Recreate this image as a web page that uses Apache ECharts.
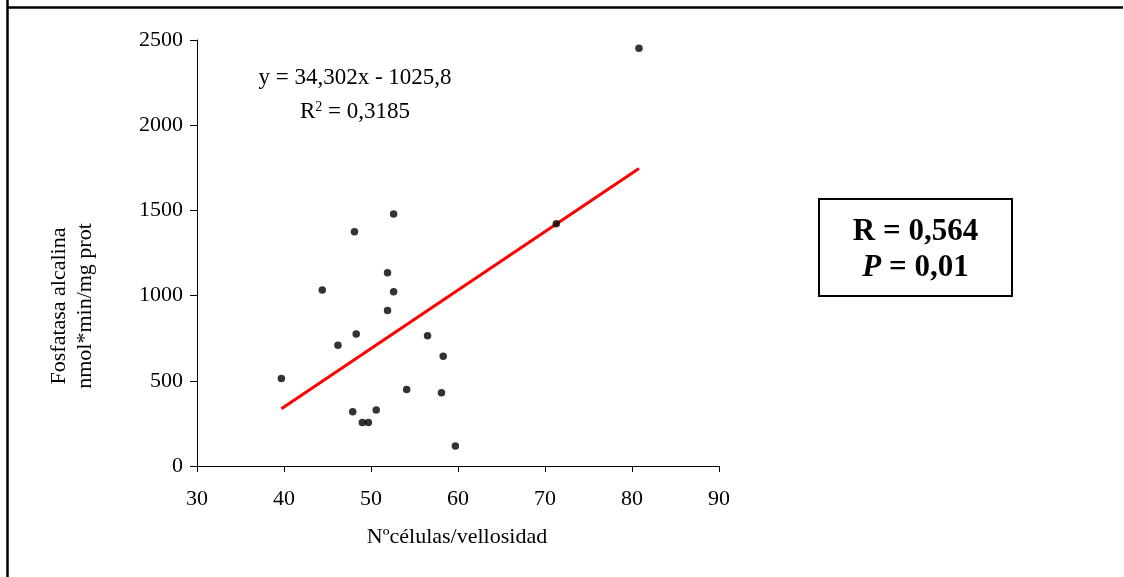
<!DOCTYPE html>
<html>
<head>
<meta charset="utf-8">
<script src="https://cdn.jsdelivr.net/npm/echarts@6/dist/echarts.min.js"></script>
<style>
html,body{margin:0;padding:0;background:#fff;}
#chart{width:1124px;height:577px;}
</style>
</head>
<body>
<div id="chart"></div>
<script>
// Data
var cellsPerVillus = [39.7, 44.4, 46.2, 48.3, 48.1, 47.9, 49.0, 49.7, 50.6, 51.9, 51.9, 52.6, 52.6, 54.1, 56.5, 58.3, 58.1, 59.7, 71.3, 80.8];
var alkalinePhosphatase = [514, 1033, 708, 774, 1375, 319, 255, 255, 329, 1134, 912, 1023, 1479, 449, 765, 644, 430, 117, 1422, 2451];
var trendSlope = 34.302;
var trendIntercept = -1025.8;
var xTicks = [30, 40, 50, 60, 70, 80, 90];
var yTicks = [0, 500, 1000, 1500, 2000, 2500];
var equationText = 'y = 34,302x - 1025,8';
var r2Text = '0,3185';
var rText = 'R = 0,564';
var pText = '0,01';

var points = cellsPerVillus.map(function (x, i) { return [x, alkalinePhosphatase[i]]; });
var xMinData = Math.min.apply(null, cellsPerVillus);
var xMaxData = Math.max.apply(null, cellsPerVillus);
var trend = [
  [xMinData, trendSlope * xMinData + trendIntercept],
  [xMaxData, trendSlope * xMaxData + trendIntercept]
];

var FONT = '"Liberation Serif", "Times New Roman", serif';
var chart = echarts.init(document.getElementById('chart'), null, {renderer: 'canvas'});
chart.setOption({
  backgroundColor: '#ffffff',
  animation: false,
  grid: {left: 197, right: 405, top: 40, bottom: 111, containLabel: false},
  xAxis: {
    type: 'value',
    min: xTicks[0], max: xTicks[xTicks.length - 1], interval: xTicks[1] - xTicks[0],
    splitLine: {show: false},
    axisLine: {onZero: false, lineStyle: {color: '#000', width: 1}},
    axisTick: {show: true, length: 6, lineStyle: {color: '#000'}},
    axisLabel: {color: '#000', fontFamily: FONT, fontSize: 22, margin: 22, formatter: function (v) { return String(v); }}
  },
  yAxis: {
    type: 'value',
    min: yTicks[0], max: yTicks[yTicks.length - 1], interval: yTicks[1] - yTicks[0],
    splitLine: {show: false},
    axisLine: {show: true, lineStyle: {color: '#000', width: 1}},
    axisTick: {show: true, length: 7, lineStyle: {color: '#000'}},
    axisLabel: {color: '#000', fontFamily: FONT, fontSize: 22, margin: 14, formatter: function (v) { return String(v); }}
  },
  series: [
    {
      type: 'line',
      data: trend,
      showSymbol: false,
      symbol: 'none',
      lineStyle: {color: '#ff0000', width: 3},
      z: 2
    },
    {
      type: 'scatter',
      data: points,
      symbol: 'circle',
      symbolSize: 7.5,
      itemStyle: {color: '#000'},
      z: 3
    }
  ],
  graphic: [
    {type: 'line', shape: {x1: 7.5, y1: 0, x2: 7.5, y2: 577}, style: {stroke: '#000', lineWidth: 2.5}},
    {type: 'line', shape: {x1: 7, y1: 7.5, x2: 1123, y2: 7.5}, style: {stroke: '#000', lineWidth: 2.5}},
    {type: 'text', x: 355, y: 78, style: {text: equationText, font: '23px ' + FONT, fill: '#000', textAlign: 'center', textVerticalAlign: 'middle'}},
    {type: 'text', x: 355, y: 112, style: {
      text: '{n|R}{s|2}{n| = ' + r2Text + '}',
      textAlign: 'center', textVerticalAlign: 'middle',
      rich: {
        n: {fontFamily: FONT, fontSize: 23, color: '#000'},
        s: {fontFamily: FONT, fontSize: 14, color: '#000', verticalAlign: 'top', padding: [0, 0, 10, 0]}
      }
    }},
    {type: 'text', x: 457, y: 537, style: {text: 'Nºcélulas/vellosidad', font: '22px ' + FONT, fill: '#000', textAlign: 'center', textVerticalAlign: 'middle'}},
    {type: 'text', x: 72, y: 306, rotation: Math.PI / 2, style: {text: 'Fosfatasa alcalina\nnmol*min/mg prot', font: '22px ' + FONT, fill: '#000', textAlign: 'center', textVerticalAlign: 'middle', lineHeight: 26}},
    {type: 'rect', shape: {x: 819, y: 199, width: 193, height: 97}, style: {fill: '#fff', stroke: '#000', lineWidth: 2}},
    {type: 'text', x: 915.5, y: 232, style: {text: rText, font: 'bold 31px ' + FONT, fill: '#000', textAlign: 'center', textVerticalAlign: 'middle'}},
    {type: 'text', x: 915.5, y: 268, style: {
      text: '{i|P}{b| = ' + pText + '}',
      textAlign: 'center', textVerticalAlign: 'middle',
      rich: {
        i: {fontFamily: FONT, fontSize: 31, fontWeight: 'bold', fontStyle: 'italic', color: '#000'},
        b: {fontFamily: FONT, fontSize: 31, fontWeight: 'bold', color: '#000'}
      }
    }}
  ]
});
</script>
</body>
</html>
